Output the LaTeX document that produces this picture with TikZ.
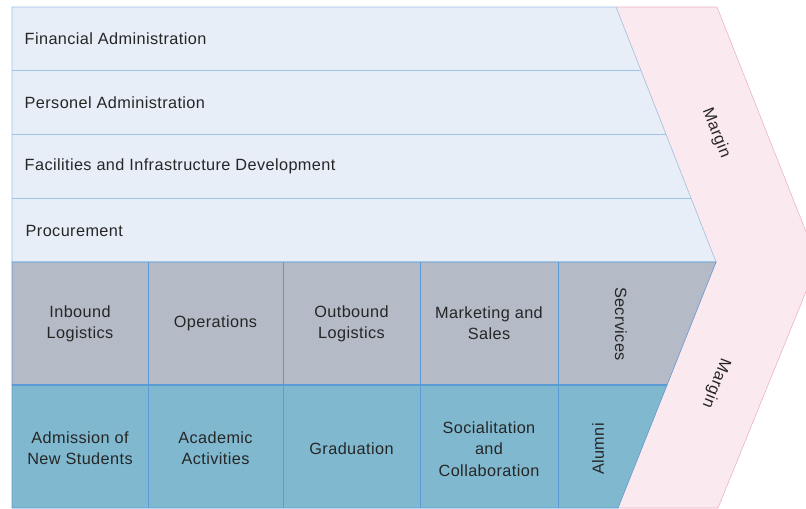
\documentclass[tikz,border=0pt]{standalone}
\usepackage{fontspec}
\setmainfont[LetterSpace=2.5]{Liberation Sans}
\usepackage{xcolor}
\usetikzlibrary{positioning,calc}
\definecolor{support1}{HTML}{E7EEF8}
\definecolor{supline1}{HTML}{9DC3E6}
\definecolor{primary1}{HTML}{B4BBC7}
\definecolor{univ1}{HTML}{80B9CF}
\definecolor{cell1}{HTML}{5B9BD5}
\definecolor{margin1}{HTML}{FAE9EF}
\definecolor{marline1}{HTML}{EBAFC0}

\begin{document}
\begin{tikzpicture}[
    x=0.75pt, y=-0.75pt,
    every node/.style={font=\fontsize{12.2}{16}\selectfont, text=black!85},
    suplabel/.style={anchor=west},
    cell/.style={align=center},
    vcell/.style={align=center, rotate=-90},
    mlabel/.style={inner sep=0pt},
]
\useasboundingbox (0,0) rectangle (806,508);
\clip (0,0) rectangle (806,508);

% ── Margin chevron ──
\draw[fill=margin1, draw=marline1] (616,7) -- (717,7) -- (818,262)
    -- (718,508) -- (618,508) -- (716,262) -- cycle;

% ── Support activities ──
\draw[fill=support1, draw=supline1] (12,7) -- (616,7) -- (716,262)
    -- (12,262) -- cycle;
\foreach \y/\x in {70/640.7, 134/665.8, 198/690.9}
    \draw[supline1] (12,\y) -- (\x,\y);

\node[suplabel] (fin) at (20,38.5) {Financial Administration};
\node[suplabel] (pers) at (20,102.5) {Personel Administration};
\node[suplabel] (fac) at (20,166.5) {Facilities and Infrastructure Development};
\node[suplabel] (proc) at (21,230.5) {Procurement};

% ── Primary activities ──
\draw[fill=primary1, draw=cell1] (12,262) -- (716,262) -- (667,385)
    -- (12,385) -- cycle;
\draw[fill=univ1, draw=cell1] (12,385) -- (667,385) -- (618,508)
    -- (12,508) -- cycle;
\draw[cell1, line width=1.2pt] (12,385) -- (667,385);
\foreach \x in {148,283,420,558}
    \draw[cell1] (\x,262) -- (\x,508);

\node[cell] (inb) at (80,323.5) {Inbound\\Logistics};
\node[cell] (ops) at (215.5,323.5) {Operations};
\node[cell] (outb) at (351.5,323.5) {Outbound\\Logistics};
\node[cell] (mkt) at (489,323.5) {Marketing and\\Sales};
\node[vcell] (serv) at (621,324) {Secrvices};

\node[cell] (adm) at (80,448.5) {Admission of\\New Students};
\node[cell] (acad) at (215.5,448.5) {Academic\\Activities};
\node[cell] (grad) at (351.5,448.5) {Graduation};
\node[cell] (soc) at (489,449) {Socialitation\\and\\Collaboration};
\node[cell, rotate=90] (alum) at (598,449) {Alumni};

% ── Margin labels ──
\node[mlabel, rotate=-68.5] (mtop) at (716,133) {Margin};
\node[mlabel, rotate=-111.5] (mbot) at (716,383) {Margin};

\end{tikzpicture}
\end{document}
